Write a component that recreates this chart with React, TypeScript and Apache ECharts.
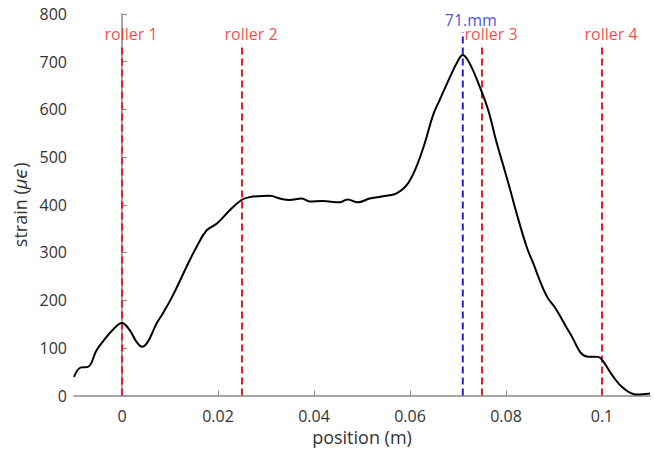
import React, { useEffect, useRef } from "react";
import * as echarts from "echarts";

// strain profile along the beam
const positions: number[] = [
  -0.01, -0.0085, -0.0071, -0.0053, -0.004, -0.0019, 0.0, 0.0016, 0.003, 0.0042,
  0.0054, 0.0072, 0.0085, 0.0106, 0.0134, 0.0155, 0.0176, 0.0197, 0.0224, 0.0249,
  0.0266, 0.0308, 0.0329, 0.0349, 0.0374, 0.0391, 0.0418, 0.0453, 0.047, 0.0491,
  0.0516, 0.0551, 0.0572, 0.0593, 0.0613, 0.0631, 0.0648, 0.0662, 0.0683, 0.07,
  0.071, 0.0724, 0.0745, 0.0763, 0.078, 0.0795, 0.0808, 0.0822, 0.0843, 0.0856,
  0.0884, 0.0905, 0.0933, 0.0968, 0.0992, 0.1002, 0.1023, 0.1044, 0.1072, 0.11,
];
const strain: number[] = [
  39, 59, 60, 95, 113, 138, 152, 137, 113, 102,
  113, 151, 172, 210, 269, 311, 346, 360, 388, 410,
  416, 419, 413, 410, 413, 407, 408, 405, 411, 405,
  413, 419, 424, 441, 479, 530, 588, 620, 667, 702,
  714, 697, 648, 598, 532, 480, 434, 382, 312, 279,
  210, 180, 131, 82, 81, 72, 40, 16, 2, 4,
];

const rollerPositions: number[] = [0, 0.025, 0.075, 0.1];
const rollerLabels: string[] = ["roller 1", "roller 2", "roller 3", "roller 4"];
const rollerLineTop = 737;
const rollerLabelY = 758;

const peakPosition = 0.071;
const peakLabel = "71.mm";
const peakLineTop = 762;
const peakLabelY = 787;

const xTitle = "position (m)";
const yTitle = "strain ({i|μϵ})";

const FONT = "'Open Sans', 'DejaVu Sans', sans-serif";
const RED = "#ec1c24";
const BLUE = "#2222dd";
const TEXT = "#333333";
const AXIS = "#8a8a8a";

export default function App() {
  const ref = useRef<HTMLDivElement>(null);

  useEffect(() => {
    if (!ref.current) return;
    const chart = echarts.init(ref.current, null, { renderer: "svg" });

    const curve = positions.map((p, i) => [p, strain[i]]);

    const rollerSeries = rollerPositions.map((x) => ({
      type: "line",
      data: [
        [x, 0],
        [x, rollerLineTop],
      ],
      showSymbol: false,
      silent: true,
      lineStyle: { color: RED, width: 2, type: [7, 4] },
      z: 2,
    }));

    const peakSeries = {
      type: "line",
      data: [
        [peakPosition, 0],
        [peakPosition, peakLineTop],
      ],
      showSymbol: false,
      silent: true,
      lineStyle: { color: BLUE, width: 2, type: [7, 4] },
      z: 2,
    };

    const option: any = {
      animation: false,
      backgroundColor: "#ffffff",
      grid: {
        left: 74,
        right: 4,
        top: 14,
        bottom: 54.5,
        containLabel: false,
        outerBoundsMode: "none",
      },
      xAxis: {
        type: "value",
        min: -0.01,
        max: 0.11,
        splitNumber: 5,
        name: xTitle,
        nameLocation: "middle",
        nameGap: 31,
        nameTextStyle: { fontFamily: FONT, fontSize: 18, color: TEXT },
        axisLine: { show: true, lineStyle: { color: AXIS, width: 1.5 } },
        axisTick: { show: true, inside: true, length: 5, lineStyle: { color: AXIS } },
        axisLabel: {
          showMinLabel: false,
          showMaxLabel: false,
          fontFamily: FONT,
          fontSize: 16,
          color: TEXT,
          margin: 12,
        },
        splitLine: { show: false },
      },
      yAxis: {
        type: "value",
        min: 0,
        max: 800,
        interval: 100,
        name: yTitle,
        nameLocation: "middle",
        nameGap: 40,
        nameTextStyle: {
          fontFamily: FONT,
          fontSize: 18,
          color: TEXT,
          rich: {
            i: { fontFamily: FONT, fontSize: 18, color: TEXT, fontStyle: "italic" },
          },
        },
        axisLine: { show: true, lineStyle: { color: AXIS, width: 1.5 } },
        axisTick: { show: true, inside: true, length: 5, lineStyle: { color: AXIS } },
        axisLabel: { fontFamily: FONT, fontSize: 16, color: TEXT, margin: 7 },
        splitLine: { show: false },
      },
      series: [
        ...rollerSeries,
        peakSeries,
        {
          type: "line",
          data: curve,
          smooth: 0.4,
          showSymbol: false,
          lineStyle: { color: "#000000", width: 2 },
          z: 3,
        },
        {
          type: "scatter",
          data: rollerPositions.map((x, i) => ({ value: [x, rollerLabelY], name: rollerLabels[i] })),
          symbolSize: 1,
          itemStyle: { color: "rgba(0,0,0,0)" },
          silent: true,
          label: {
            show: true,
            position: "inside",
            offset: [9, 0],
            formatter: (p: any) => p.name,
            fontFamily: FONT,
            fontSize: 16,
            color: RED,
          },
          z: 4,
        },
        {
          type: "scatter",
          data: [{ value: [peakPosition, peakLabelY], name: peakLabel }],
          symbolSize: 1,
          itemStyle: { color: "rgba(0,0,0,0)" },
          silent: true,
          label: {
            show: true,
            position: "inside",
            offset: [8, 0],
            formatter: (p: any) => p.name,
            fontFamily: FONT,
            fontSize: 16,
            color: BLUE,
          },
          z: 4,
        },
      ],
    };

    chart.setOption(option);
    return () => chart.dispose();
  }, []);

  return (
    <div
      ref={ref}
      style={{ position: "fixed", left: 0, top: 0, width: 654, height: 450, background: "#fff" }}
    />
  );
}
